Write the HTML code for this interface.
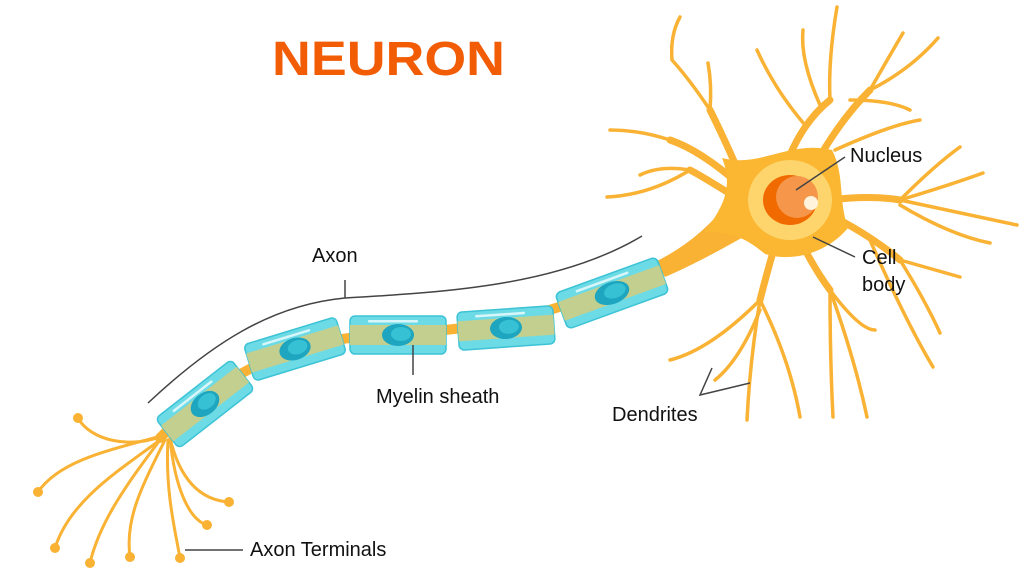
<!DOCTYPE html>
<html><head><meta charset="utf-8"><style>
html,body{margin:0;padding:0;background:#fff;width:1024px;height:573px;overflow:hidden}
svg text{font-family:"Liberation Sans",sans-serif;fill:#111}
</style></head><body>
<svg width="1024" height="573" viewBox="0 0 1024 573" xmlns="http://www.w3.org/2000/svg">
<defs>
<g id="seg">
  <rect x="-48" y="-19" width="96" height="38" rx="5" fill="#6ddbe6" stroke="#3cc3d6" stroke-width="1.5"/>
  <rect x="-48" y="-10" width="96" height="20" fill="#c3cf8f"/>
  <rect x="-30" y="-15" width="50" height="2.5" rx="1" fill="#d8f6fa"/>
  <ellipse cx="0" cy="0" rx="16" ry="11" fill="#1ea5c0"/>
  <ellipse cx="3" cy="-1" rx="10" ry="7" fill="#36c2d4"/>
</g>
</defs>

<text x="272" y="75" font-size="48" font-weight="bold" textLength="233" lengthAdjust="spacingAndGlyphs" style="fill:#f25c05">NEURON</text>

<!-- axon label line -->
<path d="M148,403 C210,345 270,305 345,298 C450,292 560,285 642,236" fill="none" stroke="#444" stroke-width="1.5"/>
<line x1="345" y1="280" x2="345" y2="298" stroke="#444" stroke-width="1.5"/>

<g fill="none" stroke="#f9b233" stroke-linecap="round">
<!-- terminals -->
<g stroke-width="3">
<path d="M165,435 C130,450 90,440 78,418"/>
<path d="M165,435 C110,450 60,460 38,492"/>
<path d="M160,440 C120,470 70,500 55,548"/>
<path d="M160,440 C130,480 100,520 90,563"/>
<path d="M165,440 C140,490 125,520 130,557"/>
<path d="M168,440 C165,490 175,530 180,558"/>
<path d="M170,438 C175,490 190,520 207,525"/>
<path d="M170,438 C180,480 200,500 229,502"/>
</g>
<!-- axon -->
<path d="M160,438 C230,365 300,338 400,333 C500,330 580,305 660,268" stroke-width="10"/>
<!-- dendrite trunks -->
<g stroke-width="7">
<path d="M740,175 Q725,140 710,110"/>
<path d="M740,185 Q700,150 670,140"/>
<path d="M740,200 Q700,175 690,170"/>
<path d="M790,155 Q805,120 830,100"/>
<path d="M815,165 Q840,120 870,90"/>
<path d="M830,200 Q870,195 900,200"/>
<path d="M830,215 Q870,235 900,260"/>
<path d="M800,240 Q815,270 830,290"/>
<path d="M775,245 Q765,280 760,300"/>
</g>
<g stroke-width="3.5">
<!-- upper-left -->
<path d="M710,110 Q690,80 672,60 Q670,35 680,17"/>
<path d="M710,110 Q712,85 708,63"/>
<path d="M670,140 Q640,130 610,130"/>
<path d="M690,170 Q650,195 607,197"/>
<path d="M690,170 Q660,165 640,175"/>
<!-- top -->
<path d="M830,100 Q828,60 837,7"/>
<path d="M820,105 Q800,60 803,30"/>
<path d="M805,125 Q775,90 757,50"/>
<path d="M870,90 Q890,55 903,33"/>
<path d="M870,90 Q910,70 938,38"/>
<path d="M835,150 Q890,125 920,120"/>
<path d="M850,100 Q890,100 910,110"/>
<!-- right -->
<path d="M900,200 Q935,165 960,147"/>
<path d="M900,200 Q950,185 983,173"/>
<path d="M900,200 Q970,215 1017,225"/>
<path d="M900,205 Q950,235 990,243"/>
<path d="M900,260 Q935,270 960,277"/>
<path d="M900,260 Q925,300 940,333"/>
<path d="M870,240 Q905,320 933,367"/>
<!-- bottom -->
<path d="M830,290 Q855,360 867,417"/>
<path d="M830,290 Q830,360 833,417"/>
<path d="M830,290 Q860,330 875,330"/>
<path d="M760,300 Q790,360 800,417"/>
<path d="M760,300 Q750,360 747,420"/>
<path d="M760,300 Q710,350 670,360"/>
<path d="M760,310 Q740,360 715,380"/>
</g>
</g>

<!-- axon taper into body -->
<path d="M655,262 Q700,240 730,200 L752,232 Q700,262 665,277Z" fill="#f9b233"/>

<!-- body -->
<path d="M722,158 C760,168 790,140 832,150 C845,175 838,200 848,228 C825,255 790,262 765,254 C748,240 735,232 705,232 C720,210 735,190 722,158Z" fill="#fbb732"/>
<ellipse cx="790" cy="200" rx="42" ry="40" fill="#fdd56c"/>
<ellipse cx="790" cy="200" rx="27" ry="25" fill="#f06a00"/>
<ellipse cx="797" cy="197" rx="21" ry="21" fill="#f5964a"/>
<circle cx="811" cy="203" r="7" fill="#fff3dc"/>

<!-- myelin segments -->
<use href="#seg" transform="translate(205,404) rotate(-38)"/>
<use href="#seg" transform="translate(295,349) rotate(-17)"/>
<use href="#seg" transform="translate(398,335)"/>
<use href="#seg" transform="translate(506,328) rotate(-4)"/>
<use href="#seg" transform="translate(612,293) rotate(-20) scale(1.12,1)"/>

<g fill="#f9b233">
<circle cx="78" cy="418" r="5"/><circle cx="38" cy="492" r="5"/><circle cx="55" cy="548" r="5"/>
<circle cx="90" cy="563" r="5"/><circle cx="130" cy="557" r="5"/><circle cx="180" cy="558" r="5"/>
<circle cx="207" cy="525" r="5"/><circle cx="229" cy="502" r="5"/>
</g>

<!-- label lines -->
<g stroke="#444" stroke-width="1.5" fill="none">
<line x1="413" y1="345" x2="413" y2="375"/>
<line x1="845" y1="157" x2="796" y2="190"/>
<line x1="813" y1="237" x2="855" y2="257"/>
<polyline points="712,368 700,395 750,383"/>
<line x1="185" y1="550" x2="243" y2="550"/>
</g>

<g font-size="20">
<text x="312" y="262">Axon</text>
<text x="376" y="403">Myelin sheath</text>
<text x="612" y="421">Dendrites</text>
<text x="850" y="162">Nucleus</text>
<text x="862" y="264">Cell</text>
<text x="862" y="291">body</text>
<text x="250" y="556">Axon Terminals</text>
</g>
</svg>
</body></html>
